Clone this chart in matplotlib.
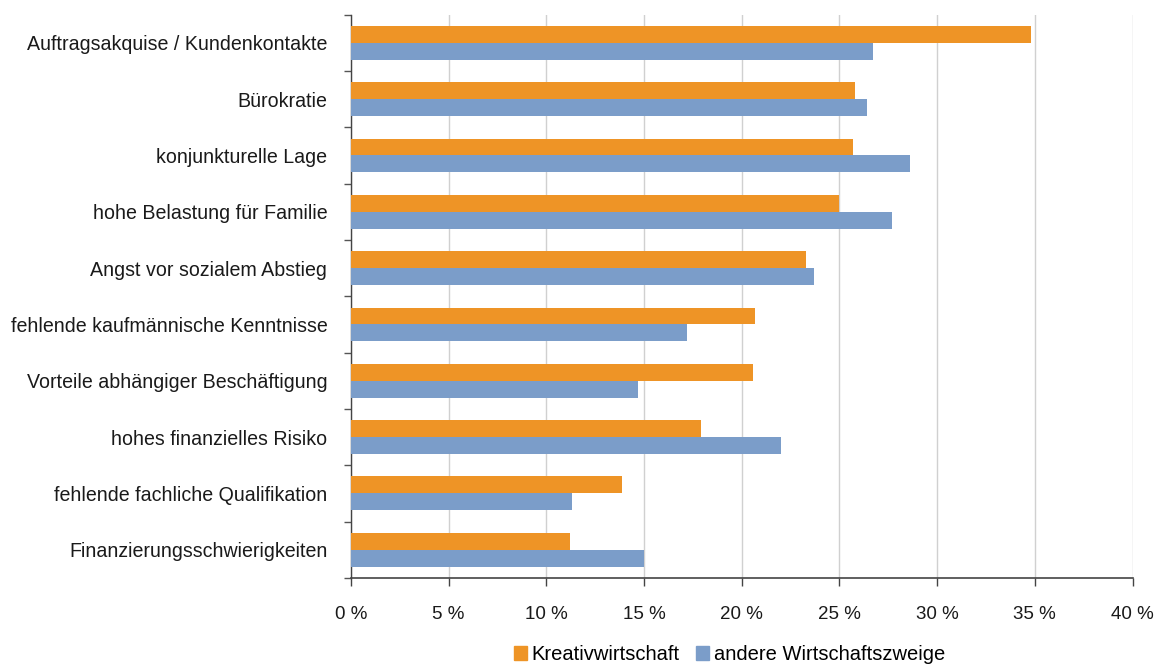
import numpy as np
import matplotlib.pyplot as plt
from matplotlib.patches import Patch

plt.rcParams['font.family'] = ['Liberation Sans', 'DejaVu Sans']

# Hemmnisse bei der Gruendung, Anteil der Nennungen in %
kategorien = [
    "Auftragsakquise / Kundenkontakte",
    "Bürokratie",
    "konjunkturelle Lage",
    "hohe Belastung für Familie",
    "Angst vor sozialem Abstieg",
    "fehlende kaufmännische Kenntnisse",
    "Vorteile abhängiger Beschäftigung",
    "hohes finanzielles Risiko",
    "fehlende fachliche Qualifikation",
    "Finanzierungsschwierigkeiten",
]
kreativ = [34.8, 25.8, 25.7, 25.0, 23.3, 20.7, 20.6, 17.9, 13.9, 11.2]
andere = [26.7, 26.4, 28.6, 27.7, 23.7, 17.2, 14.7, 22.0, 11.3, 15.0]
xticks = [0, 5, 10, 15, 20, 25, 30, 35, 40]

c_orange = "#EE9426"
c_blau = "#7B9DC9"

fig = plt.figure(figsize=(11.58, 6.68), dpi=100)
ax = fig.add_axes([0.303, 0.135, 0.675, 0.843])

n = len(kategorien)
y = np.arange(n)
h = 0.3
ax.barh(y - h / 2, kreativ, height=h, color=c_orange, zorder=3)
ax.barh(y + h / 2, andere, height=h, color=c_blau, zorder=3)

ax.set_ylim(n - 0.5, -0.5)
ax.set_xlim(0, 40)

ax.set_yticks(y)
ax.set_yticklabels(kategorien, fontsize=14.1, color="#1a1a1a")
ax.tick_params(axis="y", which="major", length=0, pad=17)
ax.set_yticks(np.arange(n + 1) - 0.5, minor=True)
ax.tick_params(axis="y", which="minor", length=5, color="#555555", width=1)

ax.set_xticks(xticks)
ax.set_xticklabels([f"{v} %" for v in xticks], fontsize=13.5, color="#1a1a1a")
ax.tick_params(axis="x", length=6, color="#444444", width=1, pad=14)

ax.grid(axis="x", color="#D0D0D0", linewidth=1, zorder=0)
for s in ["top", "right"]:
    ax.spines[s].set_visible(False)
ax.spines["left"].set_color("#444444")
ax.spines["bottom"].set_color("#444444")
ax.spines["left"].set_linewidth(1)
ax.spines["bottom"].set_linewidth(1.2)

handles = [Patch(color=c_orange, label="Kreativwirtschaft"),
           Patch(color=c_blau, label="andere Wirtschaftszweige")]
fig.legend(handles=handles, loc="center", bbox_to_anchor=(0.63, 0.02), ncol=2,
           frameon=False, fontsize=14.5, handlelength=0.65, handleheight=0.65,
           handletextpad=0.25, columnspacing=0.8)

fig.savefig("out.png", dpi=100)
